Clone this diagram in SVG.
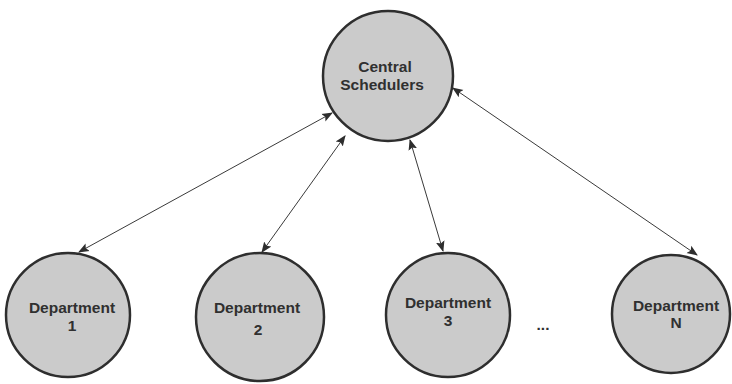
<svg xmlns="http://www.w3.org/2000/svg" width="732" height="384" viewBox="0 0 732 384">
  <style>
    .node { fill: #cbcbcb; stroke: #2e2e2e; stroke-width: 2.5; }
    .label { font-family: "Liberation Sans", Arial, sans-serif; font-size: 15.5px; font-weight: bold; fill: #303030; text-anchor: middle; letter-spacing: 0; }
    .link { stroke: #3a3a3a; stroke-width: 1; fill: none; marker-start: url(#head); marker-end: url(#head); }
  </style>
  <defs>
    <marker id="head" viewBox="0 0 10 10" refX="9" refY="5" markerWidth="11" markerHeight="11" markerUnits="userSpaceOnUse" orient="auto-start-reverse">
      <path d="M0,1 L10,5 L0,9 L2,5 Z" fill="#2e2e2e"/>
    </marker>
  </defs>
  <rect width="732" height="384" fill="#ffffff"/>

  <g id="connectors">
    <line class="link" x1="332" y1="113" x2="79" y2="252"/>
    <line class="link" x1="345" y1="136" x2="262" y2="252"/>
    <line class="link" x1="410" y1="140" x2="443" y2="251"/>
    <line class="link" x1="453" y1="88" x2="697" y2="255"/>
  </g>

  <g id="central">
    <circle class="node" cx="388" cy="76" r="65"/>
    <text class="label" x="385" y="72">Central</text>
    <text class="label" x="382" y="90">Schedulers</text>
  </g>

  <g id="dept1">
    <circle class="node" cx="68" cy="315" r="62"/>
    <text class="label" x="72" y="313">Department</text>
    <text class="label" x="72" y="331">1</text>
  </g>

  <g id="dept2">
    <circle class="node" cx="260" cy="317" r="64"/>
    <text class="label" x="257" y="313">Department</text>
    <text class="label" x="258" y="335">2</text>
  </g>

  <g id="dept3">
    <circle class="node" cx="448" cy="315" r="62"/>
    <text class="label" x="448" y="308">Department</text>
    <text class="label" x="448" y="326">3</text>
  </g>

  <text class="label" x="543" y="330">...</text>

  <g id="deptN">
    <circle class="node" cx="671" cy="314" r="59"/>
    <text class="label" x="676" y="311">Department</text>
    <text class="label" x="676" y="328">N</text>
  </g>
</svg>
